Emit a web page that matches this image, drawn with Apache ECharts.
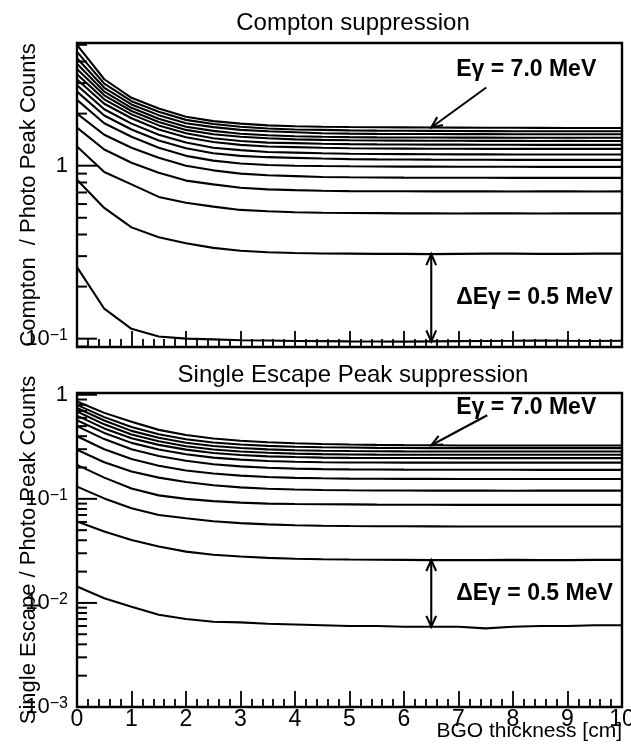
<!DOCTYPE html>
<html>
<head>
<meta charset="utf-8">
<script src="https://cdn.jsdelivr.net/npm/echarts@6/dist/echarts.min.js"></script>
<style>
  html, body { margin: 0; padding: 0; background: #fff; }
  #chart { width: 631px; height: 749px; }
</style>
</head>
<body>
<div id="chart"></div>
<script>
// BGO shield thickness [cm] at which every curve is sampled
const thickness = [0, 0.5, 1, 1.5, 2, 2.5, 3, 3.5, 4, 4.5, 5, 5.5, 6, 6.5, 7, 7.5, 8, 8.5, 9, 9.5, 10];

// Compton / photo-peak counts, lowest gamma energy first, highest last
const comptonRatio = [
  [0.259, 0.149, 0.114, 0.103, 0.100, 0.099, 0.098, 0.0975, 0.097, 0.0968, 0.0965, 0.0963, 0.0962, 0.0965, 0.0968, 0.097, 0.0972, 0.0975, 0.0972, 0.097, 0.0972],
  [0.83, 0.57, 0.44, 0.386, 0.356, 0.335, 0.322, 0.316, 0.313, 0.311, 0.310, 0.309, 0.309, 0.308, 0.309, 0.310, 0.310, 0.309, 0.309, 0.310, 0.310],
  [1.29, 0.92, 0.78, 0.66, 0.61, 0.58, 0.555, 0.545, 0.538, 0.535, 0.533, 0.532, 0.530, 0.530, 0.529, 0.530, 0.530, 0.529, 0.530, 0.531, 0.530],
  [1.66, 1.24, 1.04, 0.91, 0.82, 0.78, 0.745, 0.73, 0.722, 0.716, 0.713, 0.712, 0.711, 0.710, 0.710, 0.711, 0.709, 0.710, 0.710, 0.709, 0.710],
  [2.00, 1.51, 1.27, 1.11, 1.00, 0.94, 0.90, 0.88, 0.87, 0.86, 0.857, 0.855, 0.853, 0.852, 0.851, 0.852, 0.850, 0.850, 0.851, 0.850, 0.850],
  [2.40, 1.76, 1.47, 1.27, 1.14, 1.07, 1.03, 1.01, 1.00, 0.995, 0.992, 0.990, 0.988, 0.987, 0.986, 0.985, 0.985, 0.984, 0.985, 0.984, 0.984],
  [2.68, 1.95, 1.62, 1.40, 1.26, 1.18, 1.14, 1.12, 1.11, 1.10, 1.092, 1.088, 1.086, 1.084, 1.083, 1.082, 1.081, 1.082, 1.080, 1.080, 1.080],
  [2.92, 2.12, 1.75, 1.51, 1.36, 1.27, 1.23, 1.20, 1.19, 1.18, 1.172, 1.168, 1.166, 1.164, 1.163, 1.162, 1.161, 1.160, 1.161, 1.160, 1.160],
  [3.15, 2.28, 1.88, 1.62, 1.46, 1.37, 1.32, 1.29, 1.28, 1.27, 1.262, 1.258, 1.255, 1.253, 1.252, 1.251, 1.250, 1.251, 1.250, 1.250, 1.250],
  [3.38, 2.42, 1.98, 1.71, 1.54, 1.44, 1.39, 1.36, 1.35, 1.34, 1.332, 1.328, 1.326, 1.324, 1.323, 1.322, 1.321, 1.320, 1.321, 1.320, 1.320],
  [3.62, 2.55, 2.07, 1.79, 1.61, 1.52, 1.47, 1.44, 1.42, 1.41, 1.402, 1.398, 1.396, 1.394, 1.393, 1.392, 1.391, 1.390, 1.391, 1.390, 1.390],
  [3.88, 2.68, 2.16, 1.87, 1.68, 1.59, 1.53, 1.50, 1.48, 1.47, 1.462, 1.458, 1.456, 1.454, 1.453, 1.452, 1.451, 1.450, 1.451, 1.450, 1.450],
  [4.18, 2.82, 2.26, 1.96, 1.76, 1.67, 1.61, 1.58, 1.56, 1.54, 1.533, 1.528, 1.526, 1.524, 1.523, 1.522, 1.521, 1.520, 1.521, 1.520, 1.520],
  [4.55, 2.98, 2.36, 2.05, 1.84, 1.74, 1.68, 1.64, 1.62, 1.61, 1.600, 1.595, 1.592, 1.589, 1.586, 1.584, 1.582, 1.581, 1.580, 1.580, 1.580],
  [5.00, 3.16, 2.47, 2.14, 1.92, 1.81, 1.75, 1.71, 1.69, 1.68, 1.672, 1.668, 1.665, 1.662, 1.660, 1.658, 1.656, 1.654, 1.652, 1.650, 1.650]
];

// Single-escape / photo-peak counts, lowest gamma energy first, highest last
const escapeRatio = [
  [0.0144, 0.0111, 0.0092, 0.0077, 0.0070, 0.0066, 0.0065, 0.0063, 0.0062, 0.0061, 0.0060, 0.0060, 0.0059, 0.0059, 0.0059, 0.0057, 0.0059, 0.0060, 0.0060, 0.0061, 0.0061],
  [0.0605, 0.0485, 0.0403, 0.0348, 0.0311, 0.0290, 0.0279, 0.0271, 0.0266, 0.0263, 0.0261, 0.0260, 0.0259, 0.0258, 0.0258, 0.0258, 0.0259, 0.0258, 0.0258, 0.0259, 0.0259],
  [0.131, 0.101, 0.0813, 0.0700, 0.0650, 0.0610, 0.0585, 0.0568, 0.0558, 0.0552, 0.0548, 0.0546, 0.0545, 0.0544, 0.0543, 0.0543, 0.0542, 0.0542, 0.0542, 0.0543, 0.0542],
  [0.212, 0.160, 0.126, 0.108, 0.100, 0.095, 0.092, 0.090, 0.0893, 0.0888, 0.0884, 0.0880, 0.0878, 0.0877, 0.0876, 0.0876, 0.0875, 0.0875, 0.0876, 0.0875, 0.0875],
  [0.296, 0.225, 0.183, 0.160, 0.145, 0.135, 0.129, 0.125, 0.123, 0.1215, 0.1208, 0.1204, 0.1202, 0.1200, 0.1199, 0.1200, 0.1198, 0.1199, 0.1200, 0.1199, 0.1200],
  [0.40, 0.30, 0.242, 0.208, 0.187, 0.175, 0.167, 0.162, 0.159, 0.1575, 0.1565, 0.1560, 0.1557, 0.1555, 0.1553, 0.1552, 0.1551, 0.1550, 0.1551, 0.1550, 0.1550],
  [0.50, 0.375, 0.300, 0.258, 0.232, 0.215, 0.205, 0.199, 0.195, 0.193, 0.192, 0.1913, 0.1908, 0.1905, 0.1903, 0.1902, 0.1901, 0.1900, 0.1901, 0.1900, 0.1900],
  [0.57, 0.43, 0.345, 0.298, 0.268, 0.249, 0.238, 0.231, 0.227, 0.225, 0.2238, 0.2233, 0.2231, 0.2230, 0.2229, 0.2230, 0.2229, 0.2230, 0.2230, 0.2229, 0.2230],
  [0.63, 0.475, 0.382, 0.330, 0.297, 0.276, 0.264, 0.256, 0.252, 0.249, 0.2478, 0.2472, 0.2468, 0.2465, 0.2463, 0.2462, 0.2461, 0.2460, 0.2461, 0.2460, 0.2460],
  [0.69, 0.52, 0.415, 0.357, 0.320, 0.298, 0.285, 0.277, 0.272, 0.269, 0.267, 0.266, 0.2655, 0.2652, 0.2650, 0.2651, 0.2650, 0.2649, 0.2650, 0.2650, 0.2650],
  [0.745, 0.565, 0.450, 0.386, 0.346, 0.322, 0.308, 0.299, 0.293, 0.290, 0.288, 0.287, 0.286, 0.2855, 0.2852, 0.2851, 0.2850, 0.2850, 0.2851, 0.2850, 0.2850],
  [0.80, 0.61, 0.49, 0.418, 0.374, 0.348, 0.333, 0.323, 0.317, 0.313, 0.311, 0.309, 0.308, 0.3075, 0.3072, 0.3071, 0.3070, 0.3070, 0.3071, 0.3070, 0.3070],
  [0.86, 0.67, 0.55, 0.46, 0.41, 0.38, 0.362, 0.350, 0.342, 0.337, 0.333, 0.330, 0.328, 0.327, 0.326, 0.3255, 0.3252, 0.3251, 0.3250, 0.3250, 0.3250]
];

// Log-axis tick values (decades and their 2..9 subdivisions inside each range)
const comptonMajorTicks = [0.1, 1];
const comptonMinorTicks = [0.09, 0.2, 0.3, 0.4, 0.5, 0.6, 0.7, 0.8, 0.9, 2, 3, 4, 5];
const escapeMajorTicks = [0.001, 0.01, 0.1, 1];
const escapeMinorTicks = [0.002, 0.003, 0.004, 0.005, 0.006, 0.007, 0.008, 0.009,
  0.02, 0.03, 0.04, 0.05, 0.06, 0.07, 0.08, 0.09,
  0.2, 0.3, 0.4, 0.5, 0.6, 0.7, 0.8, 0.9];

// Annotation texts and the thickness at which the arrows are drawn
const topLabel = 'Eγ = 7.0 MeV';
const stepLabel = 'ΔEγ = 0.5 MeV';
const arrowAt = 6.5;

const FONT = '"Liberation Sans", Arial, Helvetica, sans-serif';
const INK = '#000';
const LINE_W = 2.1;

const chart = echarts.init(document.getElementById('chart'), null, { renderer: 'canvas' });

function decadeLabel(v) {
  const e = Math.log10(v);
  const r = Math.round(e);
  if (Math.abs(e - r) > 1e-6) return '';
  if (r === 0) return '1';
  return '10{s|' + (r < 0 ? '\u2212' : '') + Math.abs(r) + '}';
}

function curveSeries(gridIdx, rows) {
  return rows.map((row, k) => ({
    name: 'curve' + gridIdx + '_' + k,
    type: 'line',
    xAxisIndex: gridIdx,
    yAxisIndex: gridIdx,
    data: thickness.map((x, i) => [x, row[i]]),
    symbol: 'none',
    silent: true,
    clip: true,
    z: 3,
    lineStyle: { color: INK, width: LINE_W }
  }));
}

// Inside ticks for the logarithmic y axis, placed through the axis scale
function yTickSeries(gridIdx, majors, minors) {
  const data = majors.map(v => [0, v, 20]).concat(minors.map(v => [0, v, 10]));
  return {
    type: 'custom',
    xAxisIndex: gridIdx,
    yAxisIndex: gridIdx,
    silent: true,
    z: 4,
    data: data,
    renderItem: function (params, api) {
      const p = api.coord([api.value(0), api.value(1)]);
      const len = api.value(2);
      return {
        type: 'line',
        shape: { x1: p[0], y1: p[1], x2: p[0] + len, y2: p[1] },
        style: { stroke: INK, lineWidth: 2 }
      };
    }
  };
}

function arrowHead(tip, from, len, halfAngle) {
  const dx = tip[0] - from[0], dy = tip[1] - from[1];
  const d = Math.hypot(dx, dy);
  const ux = dx / d, uy = dy / d;
  const pts = [];
  [halfAngle, -halfAngle].forEach(a => {
    const c = Math.cos(a), s = Math.sin(a);
    const rx = ux * c - uy * s, ry = ux * s + uy * c;
    pts.push([tip[0] - rx * len, tip[1] - ry * len]);
  });
  return { type: 'polyline', shape: { points: [pts[0], tip, pts[1]] }, style: { stroke: INK, lineWidth: LINE_W, fill: null } };
}

// Arrow annotations: one pointing at the highest-energy curve, one spanning the two lowest curves
function annotationSeries(gridIdx, rows, lead) {
  const k = thickness.indexOf(arrowAt);
  const top = rows[rows.length - 1][k];
  const hi = rows[1][k];
  const lo = rows[0][k];
  return {
    type: 'custom',
    xAxisIndex: gridIdx,
    yAxisIndex: gridIdx,
    silent: true,
    z: 6,
    data: [[arrowAt, top]],
    renderItem: function (params, api) {
      const pTop = api.coord([arrowAt, top]);
      const pHi = api.coord([arrowAt, hi]);
      const pLo = api.coord([arrowAt, lo]);
      const tail = [pTop[0] + lead.dx, pTop[1] - lead.dy];
      const head = 12, ang = 0.42;
      return {
        type: 'group',
        children: [
          { type: 'line', shape: { x1: tail[0], y1: tail[1], x2: pTop[0], y2: pTop[1] }, style: { stroke: INK, lineWidth: LINE_W } },
          arrowHead(pTop, tail, head, ang),
          { type: 'line', shape: { x1: pHi[0], y1: pHi[1], x2: pLo[0], y2: pLo[1] }, style: { stroke: INK, lineWidth: LINE_W } },
          arrowHead(pHi, pLo, head, ang),
          arrowHead(pLo, pHi, head, ang),
          { type: 'text', style: { text: topLabel, x: pTop[0] + 25, y: pTop[1] - lead.textDy, font: 'bold 23px ' + FONT, fill: INK, align: 'left', verticalAlign: 'middle' } },
          { type: 'text', style: { text: stepLabel, x: pLo[0] + 25, y: (pHi[1] + pLo[1]) / 2, font: 'bold 23px ' + FONT, fill: INK, align: 'left', verticalAlign: 'middle' } }
        ]
      };
    }
  };
}

function xAxisFor(gridIdx, withLabels) {
  return {
    gridIndex: gridIdx,
    type: 'value',
    min: 0,
    max: 10,
    interval: 1,
    axisLine: { show: false },
    axisTick: { show: true, inside: true, length: 16, lineStyle: { color: INK, width: 1.8 } },
    minorTick: { show: true, splitNumber: 5, length: 8, lineStyle: { color: INK, width: 1.8 } },
    splitLine: { show: false },
    minorSplitLine: { show: false },
    axisLabel: withLabels
      ? { show: true, margin: 1, fontSize: 23, fontFamily: FONT, color: INK, showMinLabel: true, showMaxLabel: true }
      : { show: false },
    name: withLabels ? 'BGO thickness [cm]' : '',
    nameLocation: 'end',
    nameGap: 0,
    nameMoveOverlap: false,
    nameTextStyle: { fontSize: 21, fontFamily: FONT, color: INK, align: 'right', verticalAlign: 'top', padding: [14, 0, 0, 0] }
  };
}

function yAxisFor(gridIdx, min, max, name) {
  return {
    gridIndex: gridIdx,
    type: 'log',
    logBase: 10,
    min: min,
    max: max,
    axisLine: { show: false },
    axisTick: { show: false },
    minorTick: { show: false },
    splitLine: { show: false },
    minorSplitLine: { show: false },
    axisLabel: {
      show: true,
      margin: 9,
      fontSize: 22,
      fontFamily: FONT,
      color: INK,
      formatter: decadeLabel,
      rich: { s: { fontSize: 16, fontFamily: FONT, color: INK, verticalAlign: 'top', lineHeight: 14 } }
    },
    name: name,
    nameLocation: 'middle',
    nameRotate: 90,
    nameGap: 37,
    nameMoveOverlap: false,
    nameTextStyle: { fontSize: 22, fontFamily: FONT, color: INK }
  };
}

const gridStyle = { show: true, borderColor: INK, borderWidth: 2.4, backgroundColor: 'transparent', outerBoundsMode: 'none', containLabel: false };

chart.setOption({
  animation: false,
  backgroundColor: '#fff',
  title: [
    { text: 'Compton suppression', left: 348, top: 6, textAlign: 'center', textStyle: { fontSize: 24, fontWeight: 'normal', fontFamily: FONT, color: INK } },
    { text: 'Single Escape Peak suppression', left: 348, top: 358, textAlign: 'center', textStyle: { fontSize: 24, fontWeight: 'normal', fontFamily: FONT, color: INK } }
  ],
  grid: [
    Object.assign({ left: 77, right: 9, top: 43, height: 304 }, gridStyle),
    Object.assign({ left: 77, right: 9, top: 393, height: 314 }, gridStyle)
  ],
  xAxis: [xAxisFor(0, false), xAxisFor(1, true)],
  yAxis: [
    yAxisFor(0, 0.0895, 5.12, 'Compton  / Photo Peak Counts'),
    yAxisFor(1, 0.001, 1.04, 'Single Escape / Photo Peak Counts')
  ],
  series: []
    .concat(curveSeries(0, comptonRatio))
    .concat(curveSeries(1, escapeRatio))
    .concat([
      yTickSeries(0, comptonMajorTicks, comptonMinorTicks),
      yTickSeries(1, escapeMajorTicks, escapeMinorTicks),
      annotationSeries(0, comptonRatio, { dx: 55, dy: 40, textDy: 58 }),
      annotationSeries(1, escapeRatio, { dx: 56, dy: 30, textDy: 38 })
    ])
});
</script>
</body>
</html>
